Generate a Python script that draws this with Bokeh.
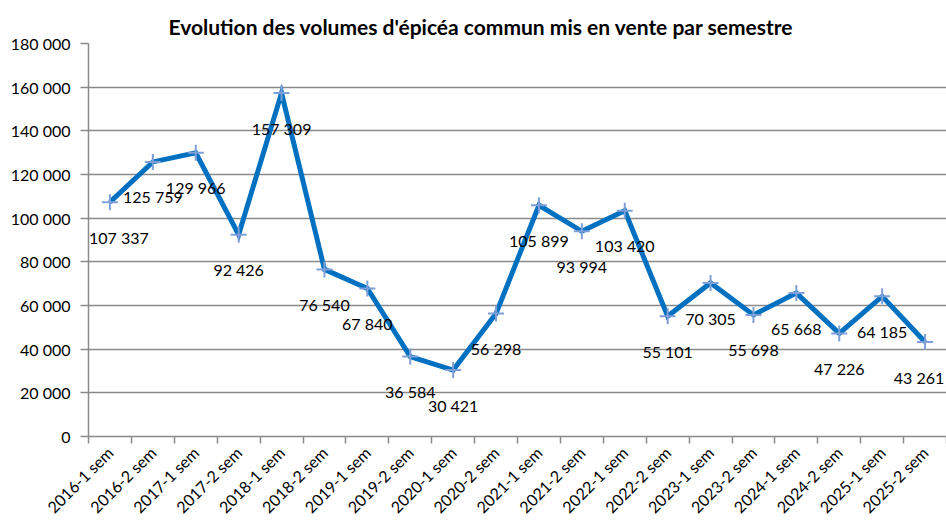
import math
from bokeh.plotting import figure
from bokeh.models import (Range1d, FixedTicker, ColumnDataSource, LabelSet, Title)
from bokeh.core.properties import value
from bokeh.embed import file_html
from bokeh.resources import INLINE

categories = ["2016-1 sem", "2016-2 sem", "2017-1 sem", "2017-2 sem", "2018-1 sem",
              "2018-2 sem", "2019-1 sem", "2019-2 sem", "2020-1 sem", "2020-2 sem",
              "2021-1 sem", "2021-2 sem", "2022-1 sem", "2022-2 sem", "2023-1 sem",
              "2023-2 sem", "2024-1 sem", "2024-2 sem", "2025-1 sem", "2025-2 sem"]
volumes = [107337, 125759, 129966, 92426, 157309, 76540, 67840, 36584, 30421, 56298,
           105899, 93994, 103420, 55101, 70305, 55698, 65668, 47226, 64185, 43261]
y_ticks = [0, 20000, 40000, 60000, 80000, 100000, 120000, 140000, 160000, 180000]
title_text = "Evolution des volumes d'épicéa commun mis en vente par semestre"

FONT = "Lato"

def fmt(v):
    return f"{v:,}".replace(",", " ")

n = len(categories)
xs = [i + 0.5 for i in range(n)]
# small horizontal nudges so the first and last labels stay inside the frame
lab_dx = [9] + [0] * (n - 2) + [-6]
src = ColumnDataSource(dict(x=xs, y=volumes, lab=[fmt(v) for v in volumes], dx=lab_dx))

p = figure(width=946, height=526, output_backend="svg", toolbar_location=None,
           x_range=Range1d(0, n), y_range=Range1d(y_ticks[0], y_ticks[-1]),
           min_border_left=88, min_border_right=0, min_border_top=43, min_border_bottom=89)
p.outline_line_color = None
p.background_fill_color = "white"

t = Title(text=title_text, align="left", offset=80, text_font=FONT,
          text_font_style="bold", text_font_size="21px", text_color="black",
          standoff=9)
p.add_layout(t, "above")

# grid
p.xgrid.visible = False
p.ygrid.ticker = FixedTicker(ticks=y_ticks)
p.ygrid.grid_line_color = "#8a8a8a"
p.ygrid.grid_line_width = 1.5

# y axis
p.yaxis.ticker = FixedTicker(ticks=y_ticks)
p.yaxis.major_label_overrides = {t: fmt(t) for t in y_ticks}
p.yaxis.axis_line_color = "#8a8a8a"
p.yaxis.axis_line_width = 1.5
p.yaxis.major_tick_line_color = "#8a8a8a"
p.yaxis.major_tick_line_width = 1.5
p.yaxis.major_tick_out = 8
p.yaxis.major_tick_in = 0
p.yaxis.minor_tick_line_color = None
p.yaxis.major_label_text_font = FONT
p.yaxis.major_label_text_font_size = "16px"
p.yaxis.major_label_text_color = "black"
p.yaxis.major_label_standoff = 10

# x axis
p.xaxis.ticker = FixedTicker(ticks=xs, minor_ticks=list(range(n + 1)))
p.xaxis.major_label_overrides = {x: c for x, c in zip(xs, categories)}
p.xaxis.major_label_orientation = math.pi / 4
p.xaxis.axis_line_color = "#8a8a8a"
p.xaxis.axis_line_width = 1.5
p.xaxis.major_tick_line_color = None
p.xaxis.major_tick_out = 7
p.xaxis.minor_tick_line_color = "#8a8a8a"
p.xaxis.minor_tick_line_width = 1.5
p.xaxis.minor_tick_out = 7
p.xaxis.minor_tick_in = 0
p.xaxis.major_label_text_font = FONT
p.xaxis.major_label_text_font_size = "16px"
p.xaxis.major_label_text_color = "black"
p.xaxis.major_label_standoff = 6

# series
p.line("x", "y", source=src, line_color="#0070C0", line_width=5, line_join="miter")
p.scatter("x", "y", source=src, marker="cross", size=16, line_color="#7F9FD8", line_width=2)

labels = LabelSet(x="x", y="y", text="lab", source=src, y_offset=-35, x_offset="dx",
                  text_align="center", text_baseline="middle",
                  text_font=value(FONT), text_font_size=value("16px"), text_color="black")
p.add_layout(labels)

open("out.html", "w").write(file_html(p, INLINE))
